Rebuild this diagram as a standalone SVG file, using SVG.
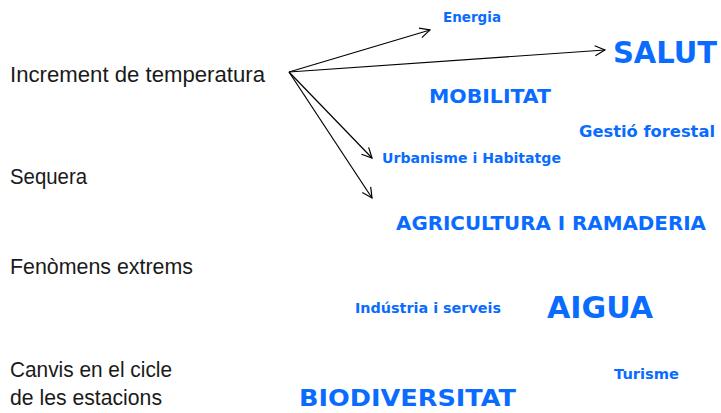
<svg xmlns="http://www.w3.org/2000/svg" width="721" height="413" viewBox="0 0 721 413">
<defs>
<style>
.l{font-family:"Liberation Sans",Arial,sans-serif;font-size:21.5px;fill:#1a1a1a}
.b{font-family:"DejaVu Sans",Verdana,sans-serif;font-weight:bold;fill:#0a6cff}
.c{stroke:#000;stroke-width:1.2;fill:none;marker-end:url(#ah)}
</style>
<marker id="ah" viewBox="0 0 12 12" refX="11" refY="6" markerWidth="12" markerHeight="12" markerUnits="userSpaceOnUse" orient="auto">
<path d="M1,1 L11,6 L1,11" fill="none" stroke="#000" stroke-width="1.2"/>
</marker>
</defs>
<rect width="721" height="413" fill="#fff"/>
<g id="connectors">
<line class="c" x1="289" y1="72" x2="430" y2="30"/>
<line class="c" x1="289" y1="72" x2="605" y2="50"/>
<line class="c" x1="289" y1="72" x2="372" y2="158"/>
<line class="c" x1="289" y1="72" x2="372" y2="198"/>
</g>
<g id="n-increment"><text class="l" x="10" y="82" textLength="255" lengthAdjust="spacingAndGlyphs">Increment de temperatura</text></g>
<g id="n-sequera"><text class="l" x="10" y="184" textLength="77" lengthAdjust="spacingAndGlyphs">Sequera</text></g>
<g id="n-fenomens"><text class="l" x="10" y="274" textLength="183" lengthAdjust="spacingAndGlyphs">Fenòmens extrems</text></g>
<g id="n-canvis"><text class="l" x="10" y="377" textLength="162" lengthAdjust="spacingAndGlyphs">Canvis en el cicle</text><text class="l" x="10" y="405" textLength="152" lengthAdjust="spacingAndGlyphs">de les estacions</text></g>
<g id="n-energia"><text class="b" x="443" y="22" font-size="14.5" textLength="58" lengthAdjust="spacingAndGlyphs">Energia</text></g>
<g id="n-salut"><text class="b" x="613" y="63" font-size="30" textLength="104" lengthAdjust="spacingAndGlyphs">SALUT</text></g>
<g id="n-mobilitat"><text class="b" x="429" y="103" font-size="19" textLength="122" lengthAdjust="spacingAndGlyphs">MOBILITAT</text></g>
<g id="n-gestio"><text class="b" x="579" y="137" font-size="16" textLength="136" lengthAdjust="spacingAndGlyphs">Gestió forestal</text></g>
<g id="n-urbanisme"><text class="b" x="382" y="163" font-size="14" textLength="179" lengthAdjust="spacingAndGlyphs">Urbanisme i Habitatge</text></g>
<g id="n-agricultura"><text class="b" x="396" y="230" font-size="20" textLength="310" lengthAdjust="spacingAndGlyphs">AGRICULTURA I RAMADERIA</text></g>
<g id="n-industria"><text class="b" x="355" y="313" font-size="14" textLength="146" lengthAdjust="spacingAndGlyphs">Indústria i serveis</text></g>
<g id="n-aigua"><text class="b" x="547" y="318" font-size="30" textLength="106" lengthAdjust="spacingAndGlyphs">AIGUA</text></g>
<g id="n-turisme"><text class="b" x="614" y="379" font-size="14" textLength="65" lengthAdjust="spacingAndGlyphs">Turisme</text></g>
<g id="n-biodiversitat"><text class="b" x="299" y="406" font-size="23" textLength="217" lengthAdjust="spacingAndGlyphs">BIODIVERSITAT</text></g>
</svg>
